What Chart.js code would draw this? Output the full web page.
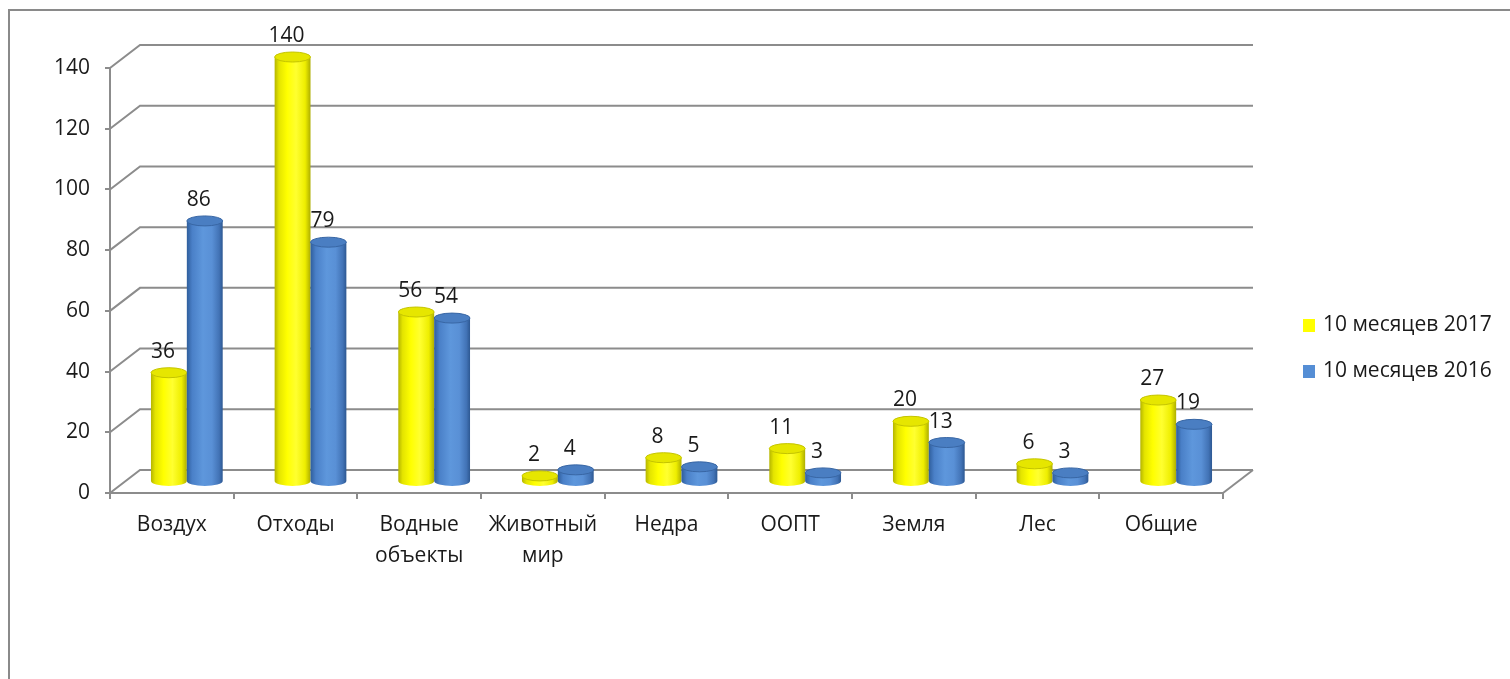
<!DOCTYPE html>
<html>
<head>
<meta charset="utf-8">
<script src="https://cdn.jsdelivr.net/npm/chart.js@4"></script>
<style>
  body { margin: 0; background: #fff; }
  #wrap { width: 1510px; height: 679px; }
</style>
</head>
<body>
<div id="wrap"><canvas id="chart" width="1510" height="679"></canvas></div>
<script>
const categories = ["Воздух", "Отходы", ["Водные", "объекты"], ["Животный", "мир"], "Недра", "ООПТ", "Земля", "Лес", "Общие"];
const months2017 = [36, 140, 56, 2, 8, 11, 20, 6, 27];
const months2016 = [86, 79, 54, 4, 5, 3, 13, 3, 19];
const seriesLabels = ["10 месяцев 2017", "10 месяцев 2016"];
const yTicks = [0, 20, 40, 60, 80, 100, 120, 140];

const FONT = "'Open Sans', sans-serif";
const GRID = "#8c8c8c";
// depth offsets for the 3D look
const BACK = { dx: 30, dy: -23 };
const MID = { dx: 15, dy: -11 };

const styles = [
  {
    legend: "#ffff00",
    body: [[0, "#b5b500"], [0.12, "#e4e400"], [0.35, "#ffff00"], [0.6, "#ffff30"], [0.85, "#eeee00"], [1, "#aeae00"]],
    top: "#e6e600", rim: "#c4c400",
  },
  {
    legend: "#558ed5",
    body: [[0, "#2f5e9c"], [0.15, "#4a80c8"], [0.45, "#5e97dc"], [0.7, "#5990d6"], [0.9, "#4273b6"], [1, "#2d5892"]],
    top: "#4a7ec2", rim: "#3866a4",
  },
];

function drawCylinder(ctx, cx, top, base, w, st) {
  const rx = w / 2, ry = 5;
  const g = ctx.createLinearGradient(cx - rx, 0, cx + rx, 0);
  st.body.forEach(([o, c]) => g.addColorStop(o, c));
  ctx.beginPath();
  ctx.moveTo(cx - rx, top);
  ctx.lineTo(cx - rx, base);
  ctx.ellipse(cx, base, rx, ry, 0, Math.PI, 0, true);
  ctx.lineTo(cx + rx, top);
  ctx.closePath();
  ctx.fillStyle = g;
  ctx.fill();
  ctx.beginPath();
  ctx.ellipse(cx, top, rx, ry, 0, 0, Math.PI * 2);
  ctx.fillStyle = st.top;
  ctx.fill();
  ctx.lineWidth = 1;
  ctx.strokeStyle = st.rim;
  ctx.stroke();
}

const walls = {
  id: "walls",
  beforeDatasetsDraw(chart) {
    const { ctx, chartArea } = chart;
    const y = chart.scales.y;
    ctx.save();
    ctx.strokeStyle = GRID;
    ctx.lineWidth = 2;
    yTicks.forEach((v) => {
      const py = y.getPixelForValue(v);
      ctx.beginPath();
      ctx.moveTo(chartArea.left, py);
      ctx.lineTo(chartArea.left + BACK.dx, py + BACK.dy);
      ctx.lineTo(chartArea.right + BACK.dx, py + BACK.dy);
      ctx.stroke();
    });
    ctx.beginPath();
    ctx.moveTo(chartArea.right, chartArea.bottom);
    ctx.lineTo(chartArea.right + BACK.dx, chartArea.bottom + BACK.dy);
    ctx.stroke();
    ctx.restore();
  },
  beforeDatasetDraw() {
    return false;
  },
  afterDatasetsDraw(chart) {
    const { ctx } = chart;
    ctx.save();
    const metas = chart.data.datasets.map((d, i) => chart.getDatasetMeta(i));
    categories.forEach((c, j) => {
      metas.forEach((meta, i) => {
        const el = meta.data[j];
        drawCylinder(ctx, el.x + MID.dx, el.y + MID.dy, el.base + MID.dy, el.width, styles[i]);
      });
    });
    ctx.fillStyle = "#1a1a1a";
    ctx.font = "21px " + FONT;
    ctx.textAlign = "center";
    ctx.textBaseline = "middle";
    metas.forEach((meta, i) => {
      meta.data.forEach((el, j) => {
        const v = chart.data.datasets[i].data[j];
        ctx.fillText(String(v), el.x + MID.dx - 6, el.y + MID.dy - 21);
      });
    });
    ctx.restore();
  },
  afterDraw(chart) {
    const { ctx } = chart;
    ctx.save();
    // legend
    ctx.font = "21px " + FONT;
    ctx.textBaseline = "middle";
    ctx.textAlign = "left";
    chart.data.datasets.forEach((d, i) => {
      const cy = 325 + i * 46;
      ctx.fillStyle = styles[i].legend;
      ctx.fillRect(1303, cy - 6, 12, 13);
      ctx.fillStyle = "#1a1a1a";
      ctx.fillText(d.label, 1323, cy);
    });
    // outer frame
    ctx.strokeStyle = "#8a8a8a";
    ctx.lineWidth = 2;
    ctx.strokeRect(9, 10, 2000, 2000);
    ctx.restore();
  },
};

new Chart(document.getElementById("chart"), {
  type: "bar",
  data: {
    labels: categories,
    datasets: [
      { label: seriesLabels[0], data: months2017, backgroundColor: styles[0].legend },
      { label: seriesLabels[1], data: months2016, backgroundColor: styles[1].legend },
    ],
  },
  options: {
    responsive: false,
    animation: false,
    layout: { padding: { left: 0, right: 287, top: 68, bottom: 0 } },
    datasets: { bar: { barPercentage: 1, categoryPercentage: 0.58 } },
    plugins: { legend: { display: false }, tooltip: { enabled: false } },
    scales: {
      x: {
        grid: { display: true, drawOnChartArea: false, offset: true, tickLength: 6, color: GRID, lineWidth: 2 },
        border: { color: GRID, width: 2 },
        ticks: { font: { family: FONT, size: 21, lineHeight: 1.45 }, color: "#1a1a1a", padding: 11, maxRotation: 0, autoSkip: false },
        afterFit: (s) => { s.height = 186; },
      },
      y: {
        min: 0,
        max: 140,
        ticks: { stepSize: 20, font: { family: FONT, size: 21 }, color: "#1a1a1a", padding: 15 },
        grid: { drawOnChartArea: false, tickLength: 5, color: GRID, lineWidth: 2 },
        border: { color: GRID, width: 2 },
        afterFit: (s) => { s.width = 110; },
      },
    },
  },
  plugins: [walls],
});
</script>
</body>
</html>
